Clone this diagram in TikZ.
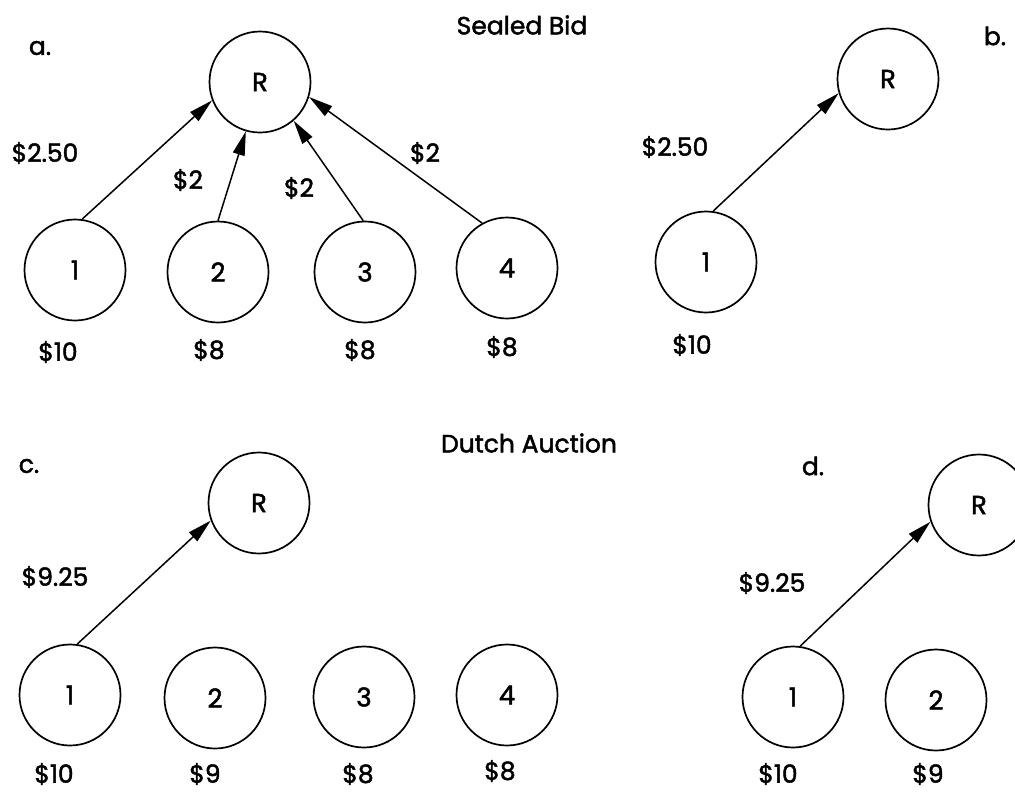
\documentclass[tikz,border=0pt]{standalone}
\usepackage{fontspec}
\setmainfont{Poppins}[FakeBold=1.8]
\usetikzlibrary{arrows.meta}
\begin{document}
\begin{tikzpicture}[x=1pt,y=-1pt,
  agent/.style={draw,circle,line width=1.7pt,minimum size=101pt,inner sep=0pt,font=\fontsize{26}{28}\selectfont},
  lbl/.style={font=\fontsize{25}{27}\selectfont,inner sep=0pt},
  bid/.style={line width=1.5pt,-{Triangle[length=24pt,width=12pt]}}]
\useasboundingbox (0,0) rectangle (1015,793);
\clip (0,0) rectangle (1015,793);

% ---- Sealed bid ----
\node[lbl] (t1) at (522,25) {Sealed Bid};
\node[lbl] (la) at (40,48) {a.};
\node[lbl] (lb) at (995,36) {b.};

\node[agent] (aR) at (260,82) {R};
\node[agent] (a1) at (75,270) {1};
\node[agent] (a2) at (218,272) {2};
\node[agent] (a3) at (365,272) {3};
\node[agent] (a4) at (507,268) {4};
\draw[bid] (a1.82) -- (aR.201);
\draw[bid] (a2.90) -- (aR.254);
\draw[bid] (a3.92) -- (aR.311);
\draw[bid] (a4.119) -- (aR.343);
\node[lbl] (ab1) at (45,153) {\$2.50};
\node[lbl] (ab2) at (188,180) {\$2};
\node[lbl] (ab3) at (299,188) {\$2};
\node[lbl] (ab4) at (425,153) {\$2};
\node[lbl] (av1) at (58,352) {\$10};
\node[lbl] (av2) at (209,350) {\$8};
\node[lbl] (av3) at (360,350) {\$8};
\node[lbl] (av4) at (502,347) {\$8};

\node[agent] (bR) at (888,79) {R};
\node[agent] (b1) at (706,262) {1};
\draw[bid] (b1.82) -- (bR.196);
\node[lbl] (bb1) at (675,147) {\$2.50};
\node[lbl] (bv1) at (692,345) {\$10};

% ---- Dutch auction ----
\node[lbl] (t2) at (529,443) {Dutch Auction};
\node[lbl] (lc) at (29,466) {c.};
\node[lbl] (ld) at (813,466) {d.};

\node[agent] (cR) at (259,503) {R};
\node[agent] (c1) at (70,695) {1};
\node[agent] (c2) at (215,698) {2};
\node[agent] (c3) at (364,697) {3};
\node[agent] (c4) at (507,695) {4};
\draw[bid] (c1.82) -- (cR.200);
\node[lbl] (cb1) at (55,577) {\$9.25};
\node[lbl] (cv1) at (54,774) {\$10};
\node[lbl] (cv2) at (205,774) {\$9};
\node[lbl] (cv3) at (358,774) {\$8};
\node[lbl] (cv4) at (500,771) {\$8};

\node[agent] (dR) at (979,505) {R};
\node[agent] (d1) at (793,697) {1};
\node[agent] (d2) at (936,700) {2};
\draw[bid] (d1.82) -- (dR.199);
\node[lbl] (db1) at (772,583) {\$9.25};
\node[lbl] (dv1) at (778,774) {\$10};
\node[lbl] (dv2) at (928,774) {\$9};
\end{tikzpicture}
\end{document}
